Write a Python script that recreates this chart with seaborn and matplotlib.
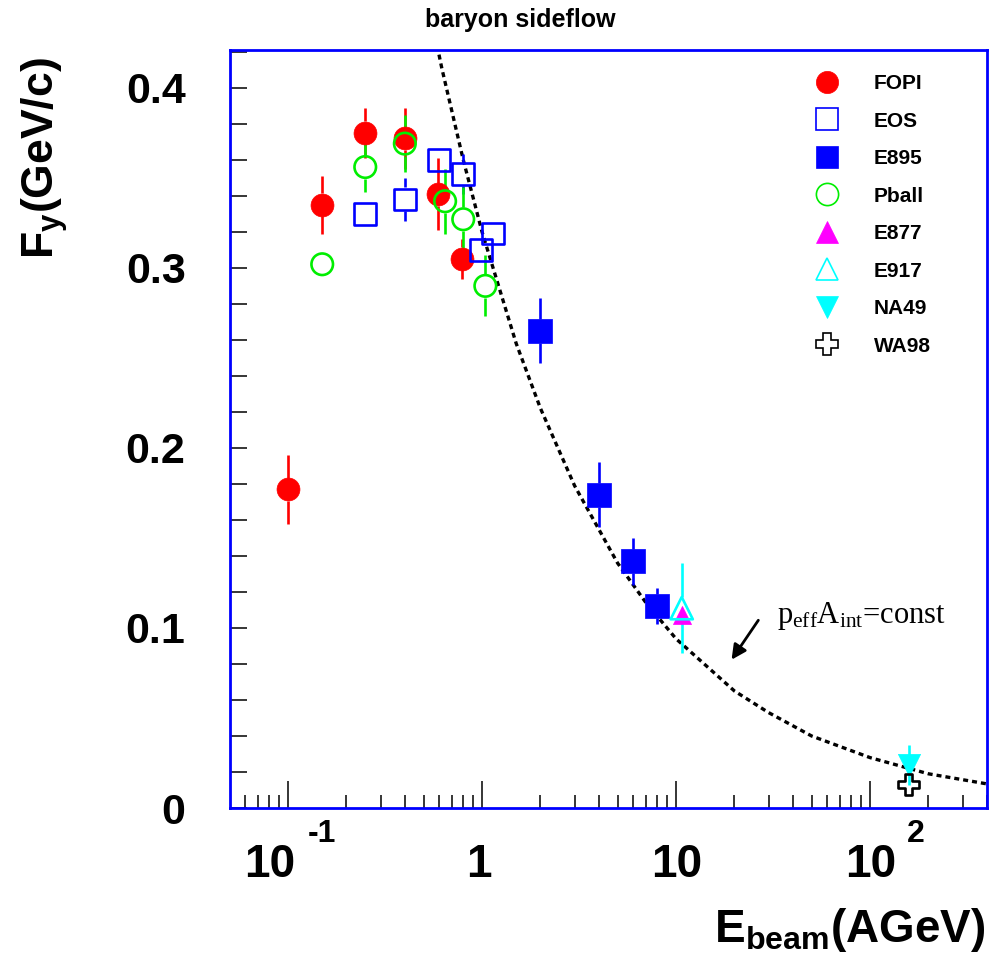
import numpy as np
import pandas as pd
import matplotlib
matplotlib.use("Agg")
import matplotlib.pyplot as plt
import seaborn as sns
from matplotlib.lines import Line2D
from matplotlib.ticker import MultipleLocator, LogLocator, NullFormatter, FuncFormatter

# ---------------- data ----------------
fopi_x = [0.10, 0.15, 0.25, 0.40, 0.59, 0.79]
fopi_y = [0.177, 0.335, 0.375, 0.372, 0.341, 0.305]
fopi_e = [0.019, 0.016, 0.014, 0.017, 0.020, 0.011]

eos_x = [0.25, 0.40, 0.60, 0.80, 0.99, 1.14]
eos_y = [0.330, 0.338, 0.360, 0.352, 0.310, 0.319]
eos_e = [0.0, 0.012, 0.0, 0.011, 0.0, 0.0]

e895_x = [2.0, 4.0, 6.0, 8.0]
e895_y = [0.265, 0.174, 0.137, 0.112]
e895_e = [0.018, 0.018, 0.013, 0.010]

pball_x = [0.15, 0.25, 0.40, 0.645, 0.80, 1.04]
pball_y = [0.302, 0.356, 0.369, 0.337, 0.327, 0.290]
pball_e = [0.0, 0.014, 0.016, 0.018, 0.018, 0.017]

e877_x = [10.7]
e877_y = [0.107]
e877_e = [0.0]

e917_x = [10.7]
e917_y = [0.111]
e917_e = [0.025]

na49_x = [158.0]
na49_y = [0.024]
na49_e = [0.011]

wa98_x = [158.0]
wa98_y = [0.013]
wa98_e = [0.0]

# dashed curve p_eff*A_int = const
curve_x = [0.55, 0.62, 0.8, 1.0, 1.5, 2.0, 3.0, 5.0, 7.0, 10.0, 20.0, 30.0, 50.0, 100.0, 200.0, 400.0]
curve_y = [0.438, 0.411, 0.360, 0.320, 0.258, 0.222, 0.179, 0.136, 0.114, 0.094, 0.065, 0.053, 0.040, 0.028, 0.019, 0.0134]

labels = ["FOPI", "EOS", "E895", "Pball", "E877", "E917", "NA49", "WA98"]
x_decades = [0.1, 1, 10, 100]

# ---------------- styles ----------------
styles = {
    "FOPI":  dict(marker="o", color="#ff0000", hollow=False, ms=16.5, r=11.5),
    "EOS":   dict(marker="s", color="#0000ff", hollow=True,  ms=15.5, r=12),
    "E895":  dict(marker="s", color="#0000ff", hollow=False, ms=17.0, r=12),
    "Pball": dict(marker="o", color="#00ee00", hollow=True,  ms=15.5, r=12),
    "E877":  dict(marker="^", color="#ff00ff", hollow=False, ms=13.0, r=7),
    "E917":  dict(marker="^", color="#00ffff", hollow=True,  ms=16.0, r=11),
    "NA49":  dict(marker="v", color="#00ffff", hollow=False, ms=16.0, r=8),
    "WA98":  dict(marker="P", color="#000000", hollow=True,  ms=15.5, r=12),
}
series = {
    "FOPI": (fopi_x, fopi_y, fopi_e),
    "EOS": (eos_x, eos_y, eos_e),
    "E895": (e895_x, e895_y, e895_e),
    "Pball": (pball_x, pball_y, pball_e),
    "E877": (e877_x, e877_y, e877_e),
    "E917": (e917_x, e917_y, e917_e),
    "NA49": (na49_x, na49_y, na49_e),
    "WA98": (wa98_x, wa98_y, wa98_e),
}

sns.set_theme(style="white")
plt.rcParams["font.family"] = ["Liberation Sans", "DejaVu Sans"]
plt.rcParams["mathtext.fontset"] = "custom"
plt.rcParams["mathtext.bf"] = "Liberation Sans:bold"
plt.rcParams["mathtext.rm"] = "Liberation Serif"
plt.rcParams["mathtext.it"] = "Liberation Serif:italic"
for k in ["text.color", "axes.labelcolor", "xtick.color", "ytick.color"]:
    plt.rcParams[k] = "black"

W, H = 989, 966
fig = plt.figure(figsize=(W / 100, H / 100), dpi=100)
L, R, T, B = 230, 987, 50, 808
ax = fig.add_axes([L / W, 1 - B / H, (R - L) / W, (B - T) / H])
ax.set_xscale("log")
ax.set_xlim(0.0502, 401)
ax.set_ylim(0, 0.421)

# curve
curve_df = pd.DataFrame({"x": curve_x, "y": curve_y})
sns.lineplot(data=curve_df, x="x", y="y", ax=ax, color="black", lw=2.4,
             linestyle=(0, (1.5, 1.2)), zorder=2)

px2pt = 0.72
# error bars with a gap around the marker (ROOT style)
for name in labels:
    xs, ys, es = series[name]
    st = styles[name]
    for x, y, e in zip(xs, ys, es):
        if e <= 0:
            continue
        cx, cy = ax.transData.transform((x, y))
        ytop = ax.transData.transform((x, y + e))[1]
        ybot = ax.transData.transform((x, y - e))[1]
        inv = ax.transData.inverted()
        segs = []
        if ytop > cy + st["r"]:
            segs.append((inv.transform((cx, cy + st["r"]))[1], y + e))
        if ybot < cy - st["r"]:
            segs.append((y - e, inv.transform((cx, cy - st["r"]))[1]))
        for a, b in segs:
            ax.vlines(x, a, b, color=st["color"], lw=1.9, zorder=3)

# markers
for name in labels:
    xs, ys, es = series[name]
    st = styles[name]
    df = pd.DataFrame({"x": xs, "y": ys})
    sns.scatterplot(data=df, x="x", y="y", ax=ax, marker=st["marker"],
                    s=st["ms"] ** 2, color=st["color"], zorder=4, legend=False)
    col = ax.collections[-1]
    if st["hollow"]:
        col.set_facecolor("none")
        col.set_edgecolor(st["color"])
        col.set_linewidth(1.9)
    else:
        col.set_edgecolor(st["color"])
        col.set_linewidth(0.5)

# axes styling
for sp in ax.spines.values():
    sp.set_color("#0000ff")
    sp.set_linewidth(2.0)
ax.yaxis.set_major_locator(MultipleLocator(0.1))
ax.yaxis.set_minor_locator(MultipleLocator(0.02))
ax.yaxis.set_major_formatter(FuncFormatter(lambda v, p: "0" if abs(v) < 1e-9 else f"{v:.1f}"))
ax.xaxis.set_major_locator(LogLocator(base=10, numticks=10))
ax.xaxis.set_minor_locator(LogLocator(base=10, subs=np.arange(2, 10), numticks=20))
ax.xaxis.set_major_formatter(NullFormatter())
ax.xaxis.set_minor_formatter(NullFormatter())
ax.tick_params(axis="y", which="both", direction="in", length=12, width=1.1,
               color="black", labelcolor="black", left=True, right=False,
               labelsize=31, pad=32)
ax.tick_params(axis="x", which="major", direction="in", length=19.5, width=1.1,
               color="black", bottom=True, top=False)
ax.tick_params(axis="x", which="minor", direction="in", length=9.5, width=1.1,
               color="black", bottom=True, top=False)
for lab in ax.get_yticklabels():
    lab.set_fontweight("bold")
ax.set_xlabel("")
ax.set_ylabel("")

# x tick labels in ROOT style (base + raised exponent)
base_txt = ["10", "1", "10", "10"]
base_dx = [-18, -3, 1, 1]
exp_txt = ["-1", "", "", "2"]
exp_dx = [20, 0, 0, 37]
for v, bt, bdx, et, edx in zip(x_decades, base_txt, base_dx, exp_txt, exp_dx):
    ax.annotate(bt, xy=(v, 0), xycoords=("data", "axes fraction"),
                xytext=(bdx * px2pt, -69 * px2pt), textcoords="offset points",
                ha="center", va="baseline", fontsize=33, fontweight="bold",
                color="black")
    if et:
        ax.annotate(et, xy=(v, 0), xycoords=("data", "axes fraction"),
                    xytext=(edx * px2pt, -34 * px2pt), textcoords="offset points",
                    ha="left", va="baseline", fontsize=23, fontweight="bold",
                    color="black")

# axis titles
fig.text(985 / W, 1 - 942 / H, r"$\mathbf{E_{beam}(AGeV)}$", ha="right",
         va="baseline", fontsize=33, color="black")
fig.text(45 / W, 1 - 158 / H, r"$\mathbf{F_{y}(GeV/c)}$", ha="center",
         va="center", rotation=90, fontsize=32, color="black")
fig.text(520 / W, 1 - 27 / H, "baryon sideflow", ha="center", va="baseline",
         fontsize=18, fontweight="bold", color="black")

# annotation
ax.text(0.7226, 0.244, r"p$_{\mathrm{eff}}$A$_{\mathrm{int}}$=const",
        transform=ax.transAxes, fontsize=22, family="Liberation Serif",
        ha="left", va="baseline", color="black")
ax.annotate("", xy=(0.6605, 0.1926), xycoords="axes fraction",
            xytext=(0.700, 0.2507), textcoords="axes fraction",
            arrowprops=dict(arrowstyle="-|>", color="black", lw=2,
                            mutation_scale=22))

# legend
handles = []
for name in labels:
    st = styles[name]
    if st["hollow"]:
        h = Line2D([], [], ls="none", marker=st["marker"], ms=16, mfc="none",
                   mec=st["color"], mew=1.2)
    else:
        h = Line2D([], [], ls="none", marker=st["marker"], ms=16, mfc=st["color"],
                   mec=st["color"], mew=0.5)
    handles.append(h)
fs = 15
fspx = fs / 0.72
leg = ax.legend(handles, labels, loc="upper left", frameon=False,
                bbox_to_anchor=((827 - fspx / 2) / W, 1 - 74 / H),
                bbox_transform=fig.transFigure, borderaxespad=0, borderpad=0,
                handlelength=1.0, handletextpad=(874 - 827 - fspx / 2) / fspx,
                labelspacing=0.89, prop={"weight": "bold", "size": fs})
for t in leg.get_texts():
    t.set_color("black")

fig.savefig("out.png", dpi=100)
